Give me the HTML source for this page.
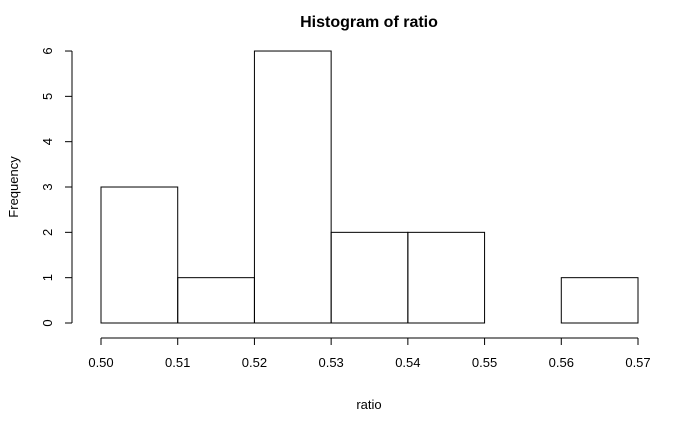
<!DOCTYPE html>
<html><head><meta charset="utf-8"><style>
body{margin:0;background:#fff}
svg text{font-family:"Liberation Sans",Arial,sans-serif;fill:#000}
</style></head><body>
<svg id="c" width="700" height="432" xmlns="http://www.w3.org/2000/svg">
<text x="369" y="27" font-size="16" font-weight="bold" text-anchor="middle">Histogram of ratio</text>
<text x="369" y="409" font-size="13" text-anchor="middle">ratio</text>
<text transform="translate(18,187) rotate(-90)" font-size="13" text-anchor="middle">Frequency</text>
<g id="bars"></g><g id="xa"></g><g id="ya"></g>
</svg>
<script>
const binEdges=[0.50,0.51,0.52,0.53,0.54,0.55,0.56,0.57];
const counts=[3,1,6,2,2,0,1];
const xTicks=[0.50,0.51,0.52,0.53,0.54,0.55,0.56,0.57];
const yTicks=[0,1,2,3,4,5,6];
const NS="http://www.w3.org/2000/svg";
const x=v=>101+(v-0.50)/0.07*537;
const y=v=>323-v*45.33;
function mk(t,a,p){const e=document.createElementNS(NS,t);for(const k in a)e.setAttribute(k,a[k]);p.appendChild(e);return e;}
const bars=document.getElementById('bars');
counts.forEach((c,i)=>{
 const r=mk('rect',{x:x(binEdges[i]),y:y(c),width:x(binEdges[i+1])-x(binEdges[i]),height:y(0)-y(c),fill:'none',stroke:'#000','stroke-width':1},bars);
 
 
});
const xa=document.getElementById('xa');
const xl=mk('line',{x1:x(xTicks[0]),x2:x(xTicks[xTicks.length-1]),y1:338,y2:338,stroke:'#000'},xa);


xTicks.forEach(t=>{
 mk('line',{x1:x(t),x2:x(t),y1:338,y2:345,stroke:'#000'},xa);
 const tx=mk('text',{x:x(t),y:367,'font-size':13,'text-anchor':'middle'},xa);
 tx.textContent=t.toFixed(2);
 
 
});
const ya=document.getElementById('ya');
const yl=mk('line',{x1:72,x2:72,y1:y(yTicks[0]),y2:y(yTicks[yTicks.length-1]),stroke:'#000'},ya);


yTicks.forEach(t=>{
 mk('line',{x1:65,x2:72,y1:y(t),y2:y(t),stroke:'#000'},ya);
 const tx=mk('text',{transform:`translate(52,${y(t)}) rotate(-90)`,'font-size':13,'text-anchor':'middle'},ya);
 tx.textContent=t;
 
 
});
</script>
</body></html>
